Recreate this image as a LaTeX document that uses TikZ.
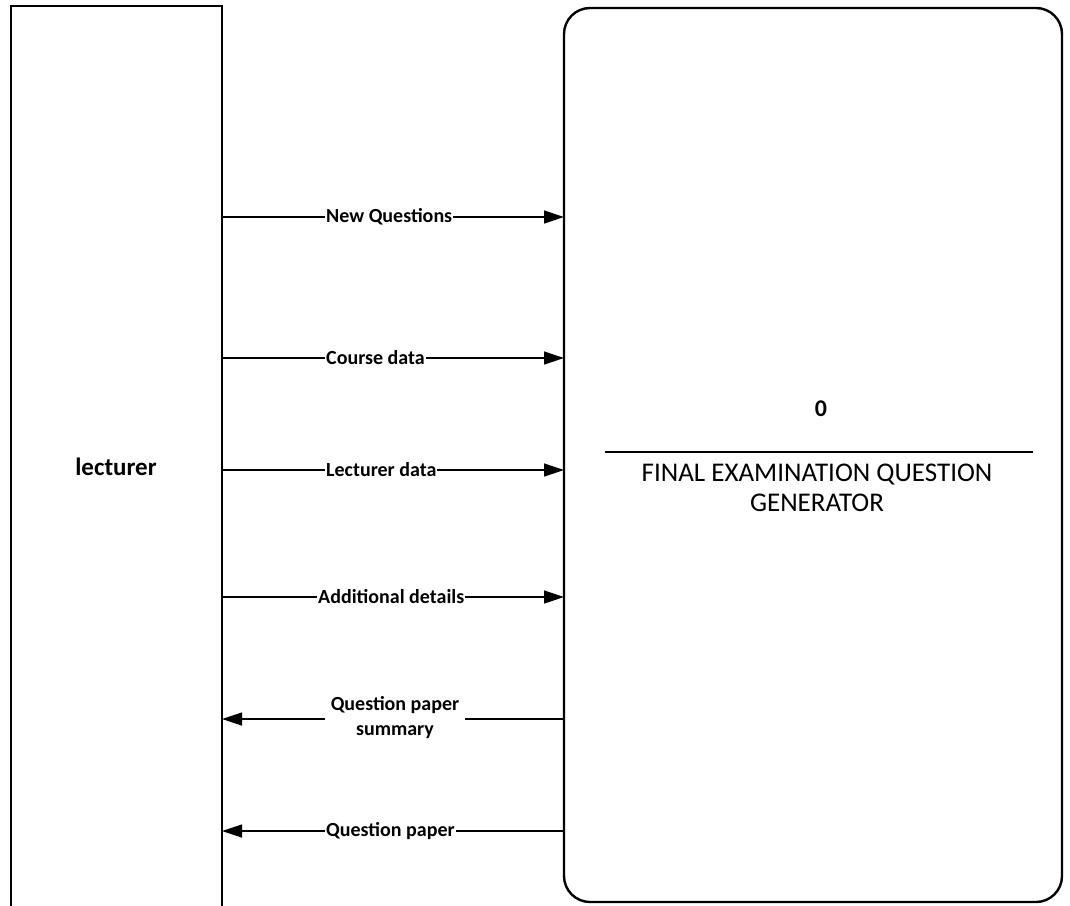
\documentclass[tikz,border=0pt]{standalone}
\usepackage{fontspec}
\setmainfont{Carlito}
\usetikzlibrary{arrows.meta}
\begin{document}
\begin{tikzpicture}[x=1pt,y=-1pt,
  box/.style={draw,line width=2.4pt},
  flow/.style={line width=1.3pt,-{Triangle[length=20pt,width=13pt]}},
  lbl/.style={fill=white,inner sep=1pt,font=\bfseries\fontsize{20}{25}\selectfont},
  every node/.style={text=black}]
\useasboundingbox (0,0) rectangle (1070,905);
% lecturer box (open at the bottom)
\draw[box] (11,920) -- (11,6) -- (222,6) -- (222,920);
\node[font=\bfseries\fontsize{25}{30}\selectfont] (lect) at (116,467) {lecturer};
% process box
\draw[box,rounded corners=26pt] (564,8) rectangle (1062,902);
\node[font=\bfseries\fontsize{24}{28}\selectfont] (zero) at (821,409) {0};
\draw[line width=1.8pt] (605,452) -- (1033,452);
\node[font=\fontsize{27}{30}\selectfont,align=center] (proc) at (817,488) {FINAL EXAMINATION QUESTION\\GENERATOR};
% connector anchors
\foreach \n/\y in {a/217,b/358,c/470,d/597,e/719,f/831}{
  \coordinate (L\n) at (222,\y);
  \coordinate (R\n) at (564,\y);
}
\draw[flow] (La) -- (Ra);
\draw[flow] (Lb) -- (Rb);
\draw[flow] (Lc) -- (Rc);
\draw[flow] (Ld) -- (Rd);
\draw[flow] (Re) -- (Le);
\draw[flow] (Rf) -- (Lf);
\node[lbl,anchor=west] (t1) at (325,217) {New Questions};
\node[lbl,anchor=west] (t2) at (325,358) {Course data};
\node[lbl,anchor=west] (t3) at (325,470) {Lecturer data};
\node[lbl,anchor=west] (t4) at (317,597) {Additional details};
\node[lbl,align=center,inner xsep=6pt] (t5) at (395,718) {Question paper\\summary};
\node[lbl,anchor=west] (t6) at (325,831) {Question paper};
\end{tikzpicture}
\end{document}
